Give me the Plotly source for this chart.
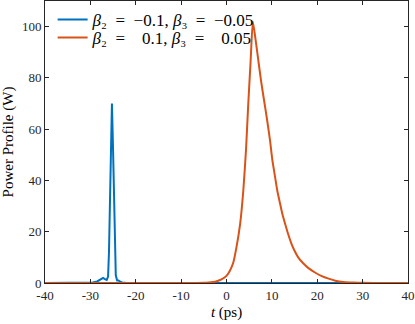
import plotly.graph_objects as go

# time axis (ps) and power (W)
t_neg = [-40, -31, -29.5, -28.5, -27.8, -27.2, -26.8, -26.4, -26.1, -25.9, -25.7, -25.5,
         -25.25, -25.0, -24.8, -24.6, -24.4, -24.1, -23.8, -23.4, -23.0, -22.0, 40]
p_neg = [0, 0, 0.2, 0.6, 1.2, 2.0, 1.5, 1.2, 2.5, 12, 30, 52,
         70, 52, 30, 12, 3, 1.0, 1.0, 0.5, 0.2, 0, 0]

t_pos = [-40, -8, -5, -4, -3, -2, -1, 0, 0.75, 1.5, 2.2, 3.0, 3.7, 4.3, 4.8, 5.3, 5.8,
         6.4, 7.0, 7.6, 8.3, 9.0, 9.6, 10.1, 10.7, 11.2, 11.8, 12.3, 12.9, 13.6, 14.3,
         15.0, 15.8, 16.9, 18.0, 19.5, 21.0, 22.5, 24.0, 25.8, 28, 30, 35, 40]
p_pos = [0, 0, 0.05, 0.15, 0.35, 0.8, 1.5, 2.8, 4.8, 8, 14, 23, 36, 52, 70, 86, 102,
         95, 87, 79, 71, 63, 55.5, 48, 41.4, 36, 31, 27, 23.2, 19, 15.4,
         12.6, 10.0, 7.7, 5.9, 4.1, 2.7, 1.7, 0.9, 0.4, 0.15, 0.05, 0, 0]

x_ticks = [-40, -30, -20, -10, 0, 10, 20, 30, 40]
y_ticks = [0, 20, 40, 60, 80, 100]

serif = "Liberation Serif"
axcol = "#262626"

fig = go.Figure()
fig.add_trace(go.Scatter(x=t_neg, y=p_neg, mode="lines", line=dict(color="#0072BD", width=2),
                         name="<i>β</i>₂  =  −0.1, <i>β</i>₃  =  −0.05", legend="legend"))
fig.add_trace(go.Scatter(x=t_pos, y=p_pos, mode="lines",
                         line=dict(color="#D95319", width=2, shape="spline", smoothing=0.5),
                         name="<i>β</i>₂  =    0.1, <i>β</i>₃  =    0.05", legend="legend2"))

axis_common = dict(showgrid=False, zeroline=False, showline=True, linecolor=axcol, linewidth=1,
                   mirror="ticks", ticks="inside", ticklen=4, tickcolor=axcol,
                   tickfont=dict(family=serif, size=13, color=axcol))

leg_font = dict(family=serif, size=17, color="black")

fig.update_layout(
    width=415, height=324,
    margin=dict(l=45, r=7, t=1, b=41),
    plot_bgcolor="white", paper_bgcolor="white",
    font=dict(family=serif),
    showlegend=True,
    legend=dict(x=0.021, y=0.933, xanchor="left", yanchor="middle", bgcolor="rgba(0,0,0,0)",
                font=leg_font),
    legend2=dict(x=0.021, y=0.869, xanchor="left", yanchor="middle", bgcolor="rgba(0,0,0,0)",
                 font=leg_font),
    xaxis=dict(range=[-40, 40], tickvals=x_ticks, ticktext=[str(v) for v in x_ticks],
               title=dict(text="<i>t</i> (ps)", font=dict(family=serif, size=15, color="black"),
                          standoff=4), **axis_common),
    yaxis=dict(range=[0, 110], tickvals=y_ticks,
               title=dict(text="Power Profile (W)", font=dict(family=serif, size=15, color="black"),
                          standoff=6), **axis_common),
)

fig.write_html("out.html", config={"displayModeBar": False},
               post_script="document.body.style.margin='0';")
